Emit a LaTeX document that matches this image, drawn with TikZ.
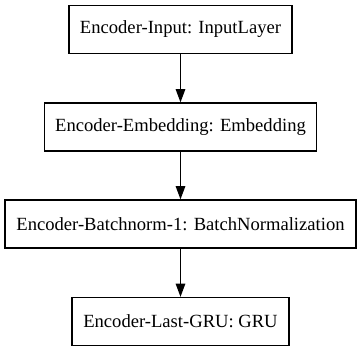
\documentclass[tikz,border=0pt]{standalone}
\usepackage{fontspec}
\setmainfont{Liberation Serif}
\usetikzlibrary{arrows.meta}
\begin{document}
\begin{tikzpicture}[x=1bp,y=1bp,
  layer/.style={draw=black, line width=1.33bp, rectangle, minimum height=48bp,
    inner sep=0pt, font=\fontsize{18.6bp}{22bp}\selectfont},
  flow/.style={draw=black, line width=1.33bp,
    -{Triangle[length=13.3bp,width=9.6bp]}}]
  \useasboundingbox (0,0) rectangle (361,352);
  \node[layer, minimum width=223bp] (inp) at (180.5,322.5) {Encoder-Input: InputLayer};
  \node[layer, minimum width=272bp] (emb) at (180.5,225) {Encoder-Embedding: Embedding};
  \node[layer, minimum width=351bp] (bn)  at (180.5,128) {Encoder-Batchnorm-1: BatchNormalization};
  \node[layer, minimum width=217bp] (gru) at (180.5,30.5) {Encoder-Last-GRU: GRU};
  \draw[flow] (inp) -- (emb);
  \draw[flow] (emb) -- (bn);
  \draw[flow] (bn) -- (gru);
\end{tikzpicture}
\end{document}
